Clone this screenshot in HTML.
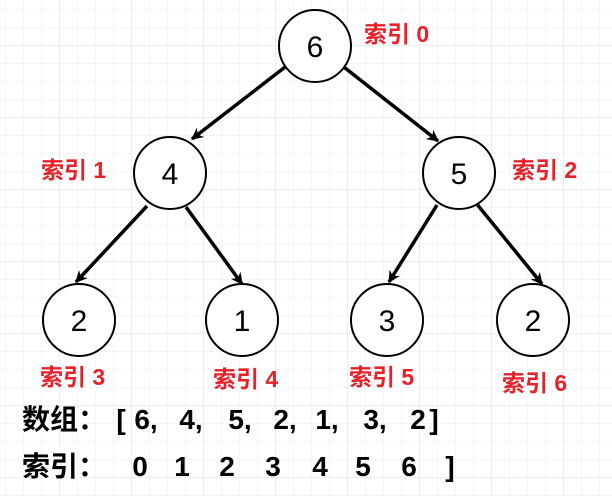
<!DOCTYPE html>
<html><head><meta charset="utf-8"><style>
body{margin:0;width:612px;height:496px;overflow:hidden;background:#fff}
</style></head><body>
<svg width="612" height="496" xmlns="http://www.w3.org/2000/svg">
<defs>
<pattern id="g" x="5" y="9" width="18" height="18" patternUnits="userSpaceOnUse">
<path d="M0 0H18M0 0V18" stroke="#eeeeee" stroke-width="1" fill="none"/>
</pattern>
<pattern id="G" x="59" y="45" width="72" height="72" patternUnits="userSpaceOnUse">
<path d="M0 0H72M0 0V72" stroke="#dcdcdc" stroke-width="1" fill="none"/>
</pattern>
<marker id="a" markerWidth="12" markerHeight="12" refX="9" refY="5" orient="auto" markerUnits="userSpaceOnUse" viewBox="0 0 10 10">
<path d="M0 0L10 5L0 10L3 5Z" fill="#000"/>
</marker>
</defs>
<rect width="612" height="496" fill="url(#g)"/>
<rect width="612" height="496" fill="url(#G)"/>
<g stroke="#000" stroke-width="3.5" marker-end="url(#a)">
<line x1="289" y1="64" x2="192" y2="139"/>
<line x1="340" y1="64" x2="438" y2="141"/>
<line x1="147" y1="206" x2="76" y2="282"/>
<line x1="186" y1="207" x2="242" y2="284"/>
<line x1="437" y1="205" x2="389" y2="282"/>
<line x1="476" y1="203" x2="542" y2="284"/>
</g>
<g fill="#fff" stroke="#000" stroke-width="2">
<circle cx="315" cy="46" r="36"/>
<circle cx="170" cy="173" r="36"/>
<circle cx="459" cy="173" r="36"/>
<circle cx="79" cy="320" r="36"/>
<circle cx="242" cy="320" r="36"/>
<circle cx="387" cy="320" r="36"/>
<circle cx="533" cy="320" r="36"/>
</g>
<g font-family="Liberation Sans, sans-serif" font-size="30" text-anchor="middle" fill="#000">
<text x="315" y="57">6</text>
<text x="170" y="184">4</text>
<text x="459" y="184">5</text>
<text x="79" y="331">2</text>
<text x="242" y="331">1</text>
<text x="387" y="331">3</text>
<text x="533" y="331">2</text>
</g>
<g font-family="Liberation Sans, 'Noto Sans CJK SC', sans-serif" font-size="23" font-weight="bold" fill="#e8202a">
<text x="364" y="42">索引 0</text>
<text x="41" y="178">索引 1</text>
<text x="512" y="178">索引 2</text>
<text x="40" y="385">索引 3</text>
<text x="213" y="387">索引 4</text>
<text x="349" y="385">索引 5</text>
<text x="502" y="391">索引 6</text>
</g>
<g font-family="Liberation Sans, 'Noto Sans CJK SC', sans-serif" font-size="28" font-weight="bold" fill="#000">
<text x="22" y="429">数组：</text>
<text x="22" y="476">索引：</text>
</g>
<g font-family="Liberation Sans, sans-serif" font-size="28" font-weight="bold" fill="#000" text-anchor="middle">
<text x="121" y="429">[</text>
<text x="146" y="429">6,</text>
<text x="191" y="429">4,</text>
<text x="240" y="429">5,</text>
<text x="285" y="429">2,</text>
<text x="327" y="429">1,</text>
<text x="375" y="429">3,</text>
<text x="418" y="429">2</text>
<text x="434" y="429">]</text>
<text x="140" y="476">0</text>
<text x="182" y="476">1</text>
<text x="227" y="476">2</text>
<text x="273" y="476">3</text>
<text x="320" y="476">4</text>
<text x="363" y="476">5</text>
<text x="409" y="476">6</text>
<text x="450" y="476">]</text>
</g>
</svg>
</body></html>
